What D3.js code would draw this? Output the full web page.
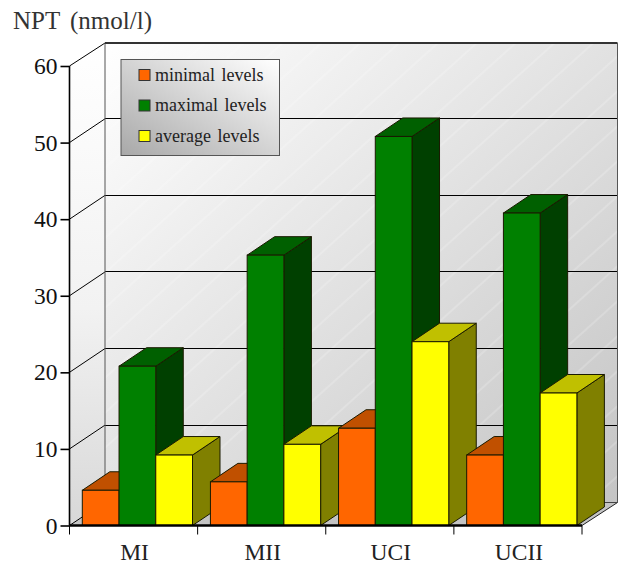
<!DOCTYPE html>
<html><head><meta charset="utf-8">
<script src="https://cdn.jsdelivr.net/npm/d3@7/dist/d3.min.js"></script>
<style>html,body{margin:0;padding:0;background:#fff}svg{display:block}</style>
</head><body><svg id="c" width="618" height="564"></svg>
<script>
const categories = ["MI","MII","UCI","UCII"];
const seriesNames = ["minimal levels","maximal levels","average levels"];
const minimalLevels = [4.6,5.7,12.7,9.2];
const maximalLevels = [20.8,35.3,50.8,40.8];
const averageLevels = [9.2,10.6,24,17.3];
const yTicks = [0,10,20,30,40,50,60];
const seriesValues = [minimalLevels,maximalLevels,averageLevels];
const colors = [
 {front:"#ff6600",top:"#c05000",side:"#7f3300"},
 {front:"#008000",top:"#006000",side:"#004000"},
 {front:"#ffff00",top:"#c0c000",side:"#808000"}];

const svg=d3.select("#c");
const L=69.5,R=582,B=525.5,T=66,DX=35.5,DY=-23,GDY=-23.8,bdx=27.5,bdy=-18.5;
const x=d3.scaleBand().domain(categories).range([L,R]);
const s=d3.scaleBand().domain(seriesNames).range([12.8,123]);
const y=d3.scaleLinear().domain([0,60]).range([B,T]);
const defs=svg.append("defs");
function grad(id,x1,y1,x2,y2,stops){
 const g=defs.append("linearGradient").attr("id",id).attr("x1",x1).attr("y1",y1).attr("x2",x2).attr("y2",y2);
 stops.forEach(([o,c])=>g.append("stop").attr("offset",o).attr("stop-color",c));
}
grad("wall",0,0,1,1,[[0,"#ffffff"],[1,"#c4c4c4"]]);
grad("sideW",0,0,0,1,[[0,"#ffffff"],[0.55,"#f2f2f2"],[1,"#d8d8d8"]]);
grad("leg",1,0,0,1,[[0,"#ffffff"],[1,"#a8a8a8"]]);
const pg=defs.append("pattern").attr("id","hatch").attr("width",26).attr("height",26).attr("patternUnits","userSpaceOnUse").attr("patternTransform","rotate(-42)");
pg.append("line").attr("x1",0).attr("x2",26).attr("y1",13).attr("y2",13).attr("stroke","#fff").attr("stroke-opacity",0.35).attr("stroke-width",1);

const poly=(pts,f,st,sw)=>svg.append("polygon").attr("points",pts.map(p=>p.join(",")).join(" ")).attr("fill",f).attr("stroke",st||"none").attr("stroke-width",sw||0);
const yTop=y(60)+DY, yBot=y(0)+DY, xb=L+DX, xr=R+DX;
poly([[L,y(60)],[xb,yTop],[xb,yBot],[L,B]],"url(#sideW)");
svg.append("rect").attr("x",xb).attr("y",yTop).attr("width",xr-xb).attr("height",yBot-yTop).attr("fill","url(#wall)");
svg.append("rect").attr("x",xb).attr("y",yTop).attr("width",xr-xb).attr("height",yBot-yTop).attr("fill","url(#hatch)");
poly([[L,B],[xb,yBot],[xr,yBot],[R,B]],"#c4c4c4");
yTicks.forEach(t=>{
 const yy=y(t);
 if(t===60) return;
 svg.append("line").attr("x1",L).attr("y1",yy).attr("x2",xb).attr("y2",yy+GDY).attr("stroke","#000").attr("stroke-width",1);
 if(t>0) svg.append("line").attr("x1",xb).attr("y1",yy+GDY).attr("x2",xr).attr("y2",yy+GDY).attr("stroke","#000").attr("stroke-width",1).attr("shape-rendering","crispEdges");
});
svg.append("line").attr("x1",L).attr("y1",T).attr("x2",xb).attr("y2",yTop).attr("stroke","#000").attr("stroke-width",1);
svg.append("line").attr("x1",xb).attr("x2",xb).attr("y1",yTop).attr("y2",yBot).attr("stroke","#555").attr("stroke-width",1);
svg.append("line").attr("x1",xb).attr("x2",xr).attr("y1",yTop).attr("y2",yTop).attr("stroke","#333").attr("stroke-width",2);
svg.append("line").attr("x1",xr).attr("x2",xr).attr("y1",yTop).attr("y2",yBot).attr("stroke","#555").attr("stroke-width",1);
svg.append("line").attr("x1",xr).attr("x2",R).attr("y1",yBot).attr("y2",B).attr("stroke","#222").attr("stroke-width",1);
svg.append("line").attr("x1",xb).attr("x2",xr).attr("y1",yBot).attr("y2",yBot).attr("stroke","#444").attr("stroke-width",1);
categories.forEach((c,ci)=>{
 seriesNames.forEach((n,si)=>{
  const v=seriesValues[si][ci], x0=x(c)+s(n), w=s.bandwidth(), yy=y(v), col=colors[si];
  const st="#1a1a00";
  poly([[x0+w,yy],[x0+w+bdx,yy+bdy],[x0+w+bdx,B+bdy],[x0+w,B]],col.side,st,1);
  poly([[x0,yy],[x0+bdx,yy+bdy],[x0+w+bdx,yy+bdy],[x0+w,yy]],col.top,st,1);
  svg.append("rect").attr("x",x0).attr("y",yy).attr("width",w).attr("height",B-yy).attr("fill",col.front).attr("stroke",st).attr("stroke-width",1);
 });
});
const fam="'Liberation Serif','Times New Roman',serif";
const ax=svg.append("g").attr("transform",`translate(${L},0)`).call(d3.axisLeft(y).tickValues(yTicks).tickSize(9).tickPadding(3));
ax.selectAll("path,line").attr("stroke","#000").attr("stroke-width",1.6);
ax.selectAll("text").attr("font-family",fam).attr("font-size",23.5).attr("fill","#111");
ax.select(".domain").attr("d",`M0,${T}V${B}`);
const bx=svg.append("g").attr("transform",`translate(0,${B})`).call(d3.axisBottom(x).tickSize(0).tickPadding(19));
bx.select(".domain").attr("d",`M${L},0H${R}`).attr("stroke","#000").attr("stroke-width",2.4);
bx.selectAll("text").attr("font-family",fam).attr("font-size",23.5).attr("fill","#222").attr("dy","0.68em").attr("dx",1);
x.domain().concat(["end"]).forEach(c=>{
 const px=c==="end"?R:x(c);
 bx.append("line").attr("x1",px).attr("x2",px).attr("y1",0).attr("y2",9).attr("stroke","#000").attr("stroke-width",1);
});
svg.append("text").attr("x",13).attr("y",29).attr("font-family",fam).attr("font-size",25).attr("fill","#333").attr("word-spacing",4).text("NPT (nmol/l)");
const lg=svg.append("g");
lg.append("rect").attr("x",121).attr("y",59.5).attr("width",158.5).attr("height",96).attr("fill","url(#leg)").attr("stroke","#555").attr("stroke-width",1);
seriesNames.forEach((n,i)=>{
 const yy=75+i*30.5;
 lg.append("rect").attr("x",139).attr("y",yy-5.5).attr("width",11).attr("height",11).attr("fill",colors[i].front).attr("stroke","#333").attr("stroke-width",1);
 lg.append("text").attr("x",155).attr("y",yy+5.5).attr("font-family",fam).attr("font-size",18).attr("fill","#222").attr("word-spacing",2).text(n);
});
</script></body></html>
